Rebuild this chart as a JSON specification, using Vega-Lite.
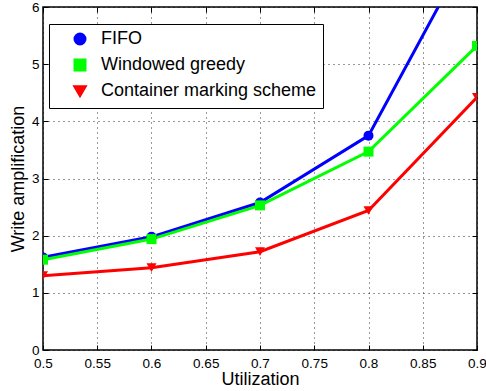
{
  "$schema": "https://vega.github.io/schema/vega-lite/v6.json",
  "width": 434,
  "height": 343,
  "autosize": {"type": "none"},
  "padding": {"left": 43, "top": 7, "right": 9, "bottom": 41},
  "background": "white",
  "config": {
    "font": "Liberation Sans",
    "view": {"stroke": "#000", "strokeWidth": 1.5},
    "axis": {
      "labelFont": "Liberation Sans",
      "titleFont": "Liberation Sans",
      "labelFontSize": 13.5,
      "titleFontSize": 18,
      "titleFontWeight": "normal",
      "labelColor": "#000",
      "titleColor": "#000",
      "domain": false,
      "tickColor": "#000",
      "tickSize": -5,
      "tickWidth": 1,
      "gridColor": "#000",
      "gridDash": [1, 4],
      "gridOpacity": 0.8,
      "gridWidth": 1
    }
  },
  "data": {
    "values": [
      {"series": "FIFO", "u": 0.5, "wa": 1.62},
      {"series": "FIFO", "u": 0.6, "wa": 1.98},
      {"series": "FIFO", "u": 0.7, "wa": 2.58},
      {"series": "FIFO", "u": 0.8, "wa": 3.75},
      {"series": "FIFO", "u": 0.9, "wa": 7.25},
      {"series": "Windowed greedy", "u": 0.5, "wa": 1.58},
      {"series": "Windowed greedy", "u": 0.6, "wa": 1.94},
      {"series": "Windowed greedy", "u": 0.7, "wa": 2.53},
      {"series": "Windowed greedy", "u": 0.8, "wa": 3.47},
      {"series": "Windowed greedy", "u": 0.9, "wa": 5.32},
      {"series": "Container marking scheme", "u": 0.5, "wa": 1.3},
      {"series": "Container marking scheme", "u": 0.6, "wa": 1.44},
      {"series": "Container marking scheme", "u": 0.7, "wa": 1.72},
      {"series": "Container marking scheme", "u": 0.8, "wa": 2.44},
      {"series": "Container marking scheme", "u": 0.9, "wa": 4.42}
    ]
  },
  "layer": [
    {
      "mark": {"type": "line", "strokeWidth": 3, "clip": true},
      "encoding": {
        "x": {
          "field": "u", "type": "quantitative",
          "scale": {"domain": [0.5, 0.9], "nice": false, "zero": false},
          "axis": {"title": "Utilization", "values": [0.5, 0.55, 0.6, 0.65, 0.7, 0.75, 0.8, 0.85, 0.9], "format": "~g", "labelPadding": 11, "titlePadding": 1, "labelFlush": false}
        },
        "y": {
          "field": "wa", "type": "quantitative",
          "scale": {"domain": [0, 6], "nice": false},
          "axis": {"title": "Write amplification", "values": [0, 1, 2, 3, 4, 5, 6], "labelPadding": 9, "titlePadding": 4, "labelFlush": false}
        },
        "stroke": {
          "field": "series", "type": "nominal",
          "scale": {"domain": ["FIFO", "Windowed greedy", "Container marking scheme"], "range": ["#0000FF", "#00FF00", "#FF0000"]},
          "legend": {
            "title": null,
            "orient": "none",
            "legendX": 6,
            "legendY": 17,
            "strokeColor": "#000",
            "fillColor": "white",
            "padding": 6,
            "rowPadding": 4,
            "labelFontSize": 18,
            "labelFont": "Liberation Sans",
            "labelColor": "#000",
            "symbolSize": 100,
            "symbolStrokeWidth": 3,
            "symbolOffset": 16,
            "labelOffset": 12,
            "labelLimit": 400
          }
        }
      }
    },
    {
      "mark": {"type": "point", "filled": true, "size": 100, "opacity": 1, "clip": true},
      "encoding": {
        "x": {
          "field": "u", "type": "quantitative",
          "axis": {"orient": "top", "title": null, "labels": false, "grid": false, "values": [0.5, 0.55, 0.6, 0.65, 0.7, 0.75, 0.8, 0.85, 0.9]}
        },
        "y": {
          "field": "wa", "type": "quantitative",
          "axis": {"orient": "right", "title": null, "labels": false, "grid": false, "values": [0, 1, 2, 3, 4, 5, 6]}
        },
        "fill": {
          "field": "series", "type": "nominal",
          "scale": {"domain": ["FIFO", "Windowed greedy", "Container marking scheme"], "range": ["#0000FF", "#00FF00", "#FF0000"]},
          "legend": null
        },
        "shape": {
          "field": "series", "type": "nominal",
          "scale": {"domain": ["FIFO", "Windowed greedy", "Container marking scheme"], "range": ["circle", "square", "triangle-down"]},
          "legend": null
        }
      }
    }
  ],
  "resolve": {"axis": {"x": "independent", "y": "independent"}}
}
